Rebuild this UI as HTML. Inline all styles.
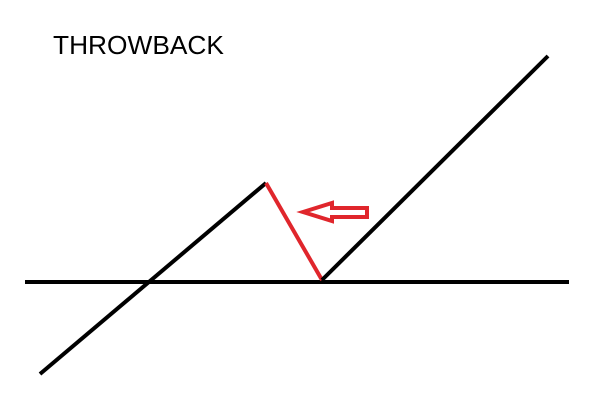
<!DOCTYPE html>
<html><head><meta charset="utf-8"><style>
html,body{margin:0;padding:0;background:#fff;width:602px;height:420px;overflow:hidden}
</style></head><body>
<svg width="602" height="420" viewBox="0 0 602 420">
<rect width="602" height="420" fill="#fff"/>
<text x="53" y="54" font-family="'Liberation Sans',sans-serif" font-size="26.3" fill="#000">THROWBACK</text>
<line x1="25" y1="282" x2="569" y2="282" stroke="#000" stroke-width="4"/>
<polyline points="40,374 266,183" fill="none" stroke="#000" stroke-width="4"/>
<polyline points="266,183 322,280" fill="none" stroke="#e0262c" stroke-width="4"/>
<polyline points="322,280 548,56" fill="none" stroke="#000" stroke-width="4"/>
<polygon points="303,212 332,203 332,208 367,208 367,217 332,217 332,221" fill="none" stroke="#e0262c" stroke-width="4" stroke-linejoin="miter"/>
</svg>
</body></html>
